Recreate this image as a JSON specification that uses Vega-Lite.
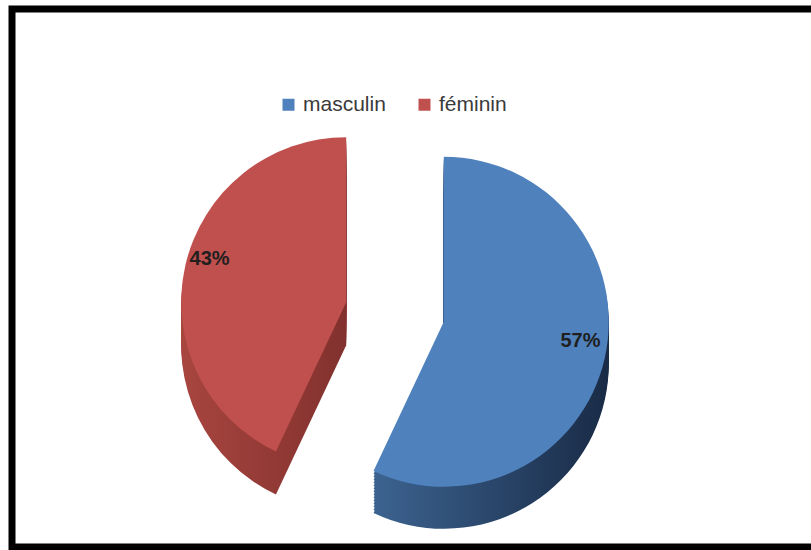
{
  "$schema": "https://vega.github.io/schema/vega-lite/v6.json",
  "width": 811,
  "height": 550,
  "autosize": {"type": "fit", "contains": "padding"},
  "padding": {"left": 12, "top": 9, "right": -5, "bottom": 3},
  "background": "white",
  "config": {"view": {"stroke": "#000000", "strokeWidth": 7}},
  "data": {"values": [
    {"sexe": "masculin", "value": 57, "label": "57%"},
    {"sexe": "féminin", "value": 43, "label": "43%"}
  ]},
  "transform": [{"stack": "value", "groupby": [], "as": ["v0", "v1"]}],
  "layer": [
    {
      "mark": {"type": "point", "opacity": 0},
      "encoding": {
        "x": {"field": "value", "type": "quantitative", "axis": null},
        "y": {"field": "value", "type": "quantitative", "axis": null}
      }
    },
    {
      "encoding": {
        "theta": {"field": "v0", "type": "quantitative", "scale": {"domain": [0, 100]}},
        "theta2": {"field": "v1"}
      },
      "layer": [
        {"transform": [{"filter": "datum.sexe !== 'masculin'"}], "mark": {"type": "arc", "radius": 165, "xOffset": -67.8, "yOffset": 67.2, "color": {"gradient": "linear", "x1": 0, "x2": 1, "y1": 0, "y2": 0, "stops": [{"offset": 0, "color": "#A8453F"}, {"offset": 1, "color": "#82312E"}]}}},
        {"transform": [{"filter": "datum.sexe !== 'masculin'"}], "mark": {"type": "arc", "radius": 165, "xOffset": -67.8, "yOffset": 64.2, "color": {"gradient": "linear", "x1": 0, "x2": 1, "y1": 0, "y2": 0, "stops": [{"offset": 0, "color": "#A8453F"}, {"offset": 1, "color": "#82312E"}]}}},
        {"transform": [{"filter": "datum.sexe !== 'masculin'"}], "mark": {"type": "arc", "radius": 165, "xOffset": -67.8, "yOffset": 61.2, "color": {"gradient": "linear", "x1": 0, "x2": 1, "y1": 0, "y2": 0, "stops": [{"offset": 0, "color": "#A8453F"}, {"offset": 1, "color": "#82312E"}]}}},
        {"transform": [{"filter": "datum.sexe !== 'masculin'"}], "mark": {"type": "arc", "radius": 165, "xOffset": -67.8, "yOffset": 58.2, "color": {"gradient": "linear", "x1": 0, "x2": 1, "y1": 0, "y2": 0, "stops": [{"offset": 0, "color": "#A8453F"}, {"offset": 1, "color": "#82312E"}]}}},
        {"transform": [{"filter": "datum.sexe !== 'masculin'"}], "mark": {"type": "arc", "radius": 165, "xOffset": -67.8, "yOffset": 55.2, "color": {"gradient": "linear", "x1": 0, "x2": 1, "y1": 0, "y2": 0, "stops": [{"offset": 0, "color": "#A8453F"}, {"offset": 1, "color": "#82312E"}]}}},
        {"transform": [{"filter": "datum.sexe !== 'masculin'"}], "mark": {"type": "arc", "radius": 165, "xOffset": -67.8, "yOffset": 52.2, "color": {"gradient": "linear", "x1": 0, "x2": 1, "y1": 0, "y2": 0, "stops": [{"offset": 0, "color": "#A8453F"}, {"offset": 1, "color": "#82312E"}]}}},
        {"transform": [{"filter": "datum.sexe !== 'masculin'"}], "mark": {"type": "arc", "radius": 165, "xOffset": -67.8, "yOffset": 49.2, "color": {"gradient": "linear", "x1": 0, "x2": 1, "y1": 0, "y2": 0, "stops": [{"offset": 0, "color": "#A8453F"}, {"offset": 1, "color": "#82312E"}]}}},
        {"transform": [{"filter": "datum.sexe !== 'masculin'"}], "mark": {"type": "arc", "radius": 165, "xOffset": -67.8, "yOffset": 46.2, "color": {"gradient": "linear", "x1": 0, "x2": 1, "y1": 0, "y2": 0, "stops": [{"offset": 0, "color": "#A8453F"}, {"offset": 1, "color": "#82312E"}]}}},
        {"transform": [{"filter": "datum.sexe !== 'masculin'"}], "mark": {"type": "arc", "radius": 165, "xOffset": -67.8, "yOffset": 43.2, "color": {"gradient": "linear", "x1": 0, "x2": 1, "y1": 0, "y2": 0, "stops": [{"offset": 0, "color": "#A8453F"}, {"offset": 1, "color": "#82312E"}]}}},
        {"transform": [{"filter": "datum.sexe !== 'masculin'"}], "mark": {"type": "arc", "radius": 165, "xOffset": -67.8, "yOffset": 40.2, "color": {"gradient": "linear", "x1": 0, "x2": 1, "y1": 0, "y2": 0, "stops": [{"offset": 0, "color": "#A8453F"}, {"offset": 1, "color": "#82312E"}]}}},
        {"transform": [{"filter": "datum.sexe !== 'masculin'"}], "mark": {"type": "arc", "radius": 165, "xOffset": -67.8, "yOffset": 37.2, "color": {"gradient": "linear", "x1": 0, "x2": 1, "y1": 0, "y2": 0, "stops": [{"offset": 0, "color": "#A8453F"}, {"offset": 1, "color": "#82312E"}]}}},
        {"transform": [{"filter": "datum.sexe !== 'masculin'"}], "mark": {"type": "arc", "radius": 165, "xOffset": -67.8, "yOffset": 34.2, "color": {"gradient": "linear", "x1": 0, "x2": 1, "y1": 0, "y2": 0, "stops": [{"offset": 0, "color": "#A8453F"}, {"offset": 1, "color": "#82312E"}]}}},
        {"transform": [{"filter": "datum.sexe !== 'masculin'"}], "mark": {"type": "arc", "radius": 165, "xOffset": -67.8, "yOffset": 31.2, "color": {"gradient": "linear", "x1": 0, "x2": 1, "y1": 0, "y2": 0, "stops": [{"offset": 0, "color": "#A8453F"}, {"offset": 1, "color": "#82312E"}]}}},
        {"transform": [{"filter": "datum.sexe !== 'masculin'"}], "mark": {"type": "arc", "radius": 165, "xOffset": -67.8, "yOffset": 28.2, "color": {"gradient": "linear", "x1": 0, "x2": 1, "y1": 0, "y2": 0, "stops": [{"offset": 0, "color": "#A8453F"}, {"offset": 1, "color": "#82312E"}]}}},
        {"transform": [{"filter": "datum.sexe !== 'masculin'"}], "mark": {"type": "arc", "radius": 165, "xOffset": -67.8, "yOffset": 24.2},
         "encoding": {"color": {"field": "sexe", "type": "nominal", "scale": {"domain": ["masculin", "féminin"], "range": ["#4F81BD", "#C0504D"]},
           "legend": {"title": null, "orient": "none", "direction": "horizontal", "legendX": 266, "legendY": 85, "symbolType": "square", "symbolSize": 144, "symbolStrokeWidth": 0, "labelFont": "Liberation Sans", "labelFontSize": 21, "labelColor": "#3a3a3a", "labelOffset": 4, "columnPadding": 28}}}},
        {"transform": [{"filter": "datum.sexe === 'masculin'"}], "mark": {"type": "arc", "radius": 165, "xOffset": 29.8, "yOffset": 85.8, "color": {"gradient": "linear", "x1": 0, "x2": 1, "y1": 0, "y2": 0, "stops": [{"offset": 0, "color": "#3C6390"}, {"offset": 1, "color": "#192B46"}]}}},
        {"transform": [{"filter": "datum.sexe === 'masculin'"}], "mark": {"type": "arc", "radius": 165, "xOffset": 29.8, "yOffset": 82.8, "color": {"gradient": "linear", "x1": 0, "x2": 1, "y1": 0, "y2": 0, "stops": [{"offset": 0, "color": "#3C6390"}, {"offset": 1, "color": "#192B46"}]}}},
        {"transform": [{"filter": "datum.sexe === 'masculin'"}], "mark": {"type": "arc", "radius": 165, "xOffset": 29.8, "yOffset": 79.8, "color": {"gradient": "linear", "x1": 0, "x2": 1, "y1": 0, "y2": 0, "stops": [{"offset": 0, "color": "#3C6390"}, {"offset": 1, "color": "#192B46"}]}}},
        {"transform": [{"filter": "datum.sexe === 'masculin'"}], "mark": {"type": "arc", "radius": 165, "xOffset": 29.8, "yOffset": 76.8, "color": {"gradient": "linear", "x1": 0, "x2": 1, "y1": 0, "y2": 0, "stops": [{"offset": 0, "color": "#3C6390"}, {"offset": 1, "color": "#192B46"}]}}},
        {"transform": [{"filter": "datum.sexe === 'masculin'"}], "mark": {"type": "arc", "radius": 165, "xOffset": 29.8, "yOffset": 73.8, "color": {"gradient": "linear", "x1": 0, "x2": 1, "y1": 0, "y2": 0, "stops": [{"offset": 0, "color": "#3C6390"}, {"offset": 1, "color": "#192B46"}]}}},
        {"transform": [{"filter": "datum.sexe === 'masculin'"}], "mark": {"type": "arc", "radius": 165, "xOffset": 29.8, "yOffset": 70.8, "color": {"gradient": "linear", "x1": 0, "x2": 1, "y1": 0, "y2": 0, "stops": [{"offset": 0, "color": "#3C6390"}, {"offset": 1, "color": "#192B46"}]}}},
        {"transform": [{"filter": "datum.sexe === 'masculin'"}], "mark": {"type": "arc", "radius": 165, "xOffset": 29.8, "yOffset": 67.8, "color": {"gradient": "linear", "x1": 0, "x2": 1, "y1": 0, "y2": 0, "stops": [{"offset": 0, "color": "#3C6390"}, {"offset": 1, "color": "#192B46"}]}}},
        {"transform": [{"filter": "datum.sexe === 'masculin'"}], "mark": {"type": "arc", "radius": 165, "xOffset": 29.8, "yOffset": 64.8, "color": {"gradient": "linear", "x1": 0, "x2": 1, "y1": 0, "y2": 0, "stops": [{"offset": 0, "color": "#3C6390"}, {"offset": 1, "color": "#192B46"}]}}},
        {"transform": [{"filter": "datum.sexe === 'masculin'"}], "mark": {"type": "arc", "radius": 165, "xOffset": 29.8, "yOffset": 61.8, "color": {"gradient": "linear", "x1": 0, "x2": 1, "y1": 0, "y2": 0, "stops": [{"offset": 0, "color": "#3C6390"}, {"offset": 1, "color": "#192B46"}]}}},
        {"transform": [{"filter": "datum.sexe === 'masculin'"}], "mark": {"type": "arc", "radius": 165, "xOffset": 29.8, "yOffset": 58.8, "color": {"gradient": "linear", "x1": 0, "x2": 1, "y1": 0, "y2": 0, "stops": [{"offset": 0, "color": "#3C6390"}, {"offset": 1, "color": "#192B46"}]}}},
        {"transform": [{"filter": "datum.sexe === 'masculin'"}], "mark": {"type": "arc", "radius": 165, "xOffset": 29.8, "yOffset": 55.8, "color": {"gradient": "linear", "x1": 0, "x2": 1, "y1": 0, "y2": 0, "stops": [{"offset": 0, "color": "#3C6390"}, {"offset": 1, "color": "#192B46"}]}}},
        {"transform": [{"filter": "datum.sexe === 'masculin'"}], "mark": {"type": "arc", "radius": 165, "xOffset": 29.8, "yOffset": 52.8, "color": {"gradient": "linear", "x1": 0, "x2": 1, "y1": 0, "y2": 0, "stops": [{"offset": 0, "color": "#3C6390"}, {"offset": 1, "color": "#192B46"}]}}},
        {"transform": [{"filter": "datum.sexe === 'masculin'"}], "mark": {"type": "arc", "radius": 165, "xOffset": 29.8, "yOffset": 49.8, "color": {"gradient": "linear", "x1": 0, "x2": 1, "y1": 0, "y2": 0, "stops": [{"offset": 0, "color": "#3C6390"}, {"offset": 1, "color": "#192B46"}]}}},
        {"transform": [{"filter": "datum.sexe === 'masculin'"}], "mark": {"type": "arc", "radius": 165, "xOffset": 29.8, "yOffset": 46.8, "color": {"gradient": "linear", "x1": 0, "x2": 1, "y1": 0, "y2": 0, "stops": [{"offset": 0, "color": "#3C6390"}, {"offset": 1, "color": "#192B46"}]}}},
        {"transform": [{"filter": "datum.sexe === 'masculin'"}], "mark": {"type": "arc", "radius": 165, "xOffset": 29.8, "yOffset": 43.8},
         "encoding": {"color": {"field": "sexe", "type": "nominal", "scale": {"domain": ["masculin", "féminin"], "range": ["#4F81BD", "#C0504D"]}}}}
      ]
    },
    {
      "mark": {"type": "text", "radius": 190, "xOffset": -19, "yOffset": 22, "font": "Liberation Sans", "fontSize": 20, "fontWeight": "bold", "color": "#1f1f1f"},
      "encoding": {
        "theta": {"field": "value", "type": "quantitative", "stack": true, "scale": {"domain": [0, 100]}},
        "order": {"field": "v0", "type": "quantitative"},
        "text": {"field": "label", "type": "nominal"}
      }
    }
  ]
}
